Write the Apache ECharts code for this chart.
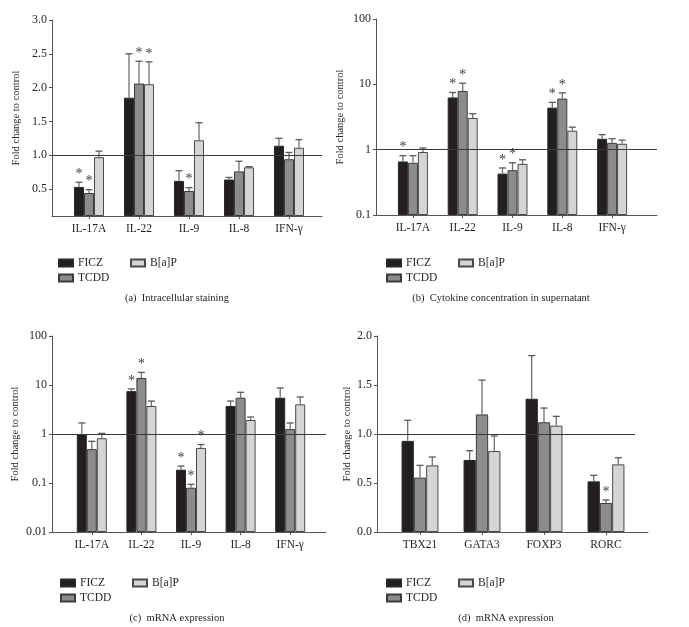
<!DOCTYPE html>
<html><head><meta charset="utf-8">
<script src="https://cdn.jsdelivr.net/npm/echarts@6/dist/echarts.min.js"></script>
<style>html,body{margin:0;padding:0;background:#fff}#c{width:689px;height:627px}</style>
</head><body><div id="c"></div>
<script>
// ---------- data ----------
const seriesNames = ['FICZ', 'TCDD', 'B[a]P'];
const cytokines = ['IL-17A', 'IL-22', 'IL-9', 'IL-8', 'IFN-γ'];
const transcriptionFactors = ['TBX21', 'GATA3', 'FOXP3', 'RORC'];

// (a) Intracellular staining (linear)
const ficzA = [0.53, 1.85, 0.62, 0.64, 1.14];
const ficzErrTopA = [0.60, 2.50, 0.77, 0.67, 1.25];
const tcddA = [0.44, 2.06, 0.47, 0.76, 0.94];
const tcddErrTopA = [0.49, 2.39, 0.52, 0.91, 1.04];
const bapA = [0.97, 2.05, 1.22, 0.82, 1.11];
const bapErrTopA = [1.06, 2.38, 1.48, 0.83, 1.23];
const ficzSigA = [1, 0, 0, 0, 0];
const tcddSigA = [1, 1, 1, 0, 0];
const bapSigA = [0, 1, 0, 0, 0];
const yTicksA = [0.5, 1.0, 1.5, 2.0, 2.5, 3.0];

// (b) Cytokine concentration in supernatant (log)
const ficzB = [0.66, 6.3, 0.43, 4.4, 1.47];
const ficzErrTopB = [0.81, 7.5, 0.525, 5.3, 1.70];
const tcddB = [0.63, 7.9, 0.485, 6.05, 1.27];
const tcddErrTopB = [0.81, 10.4, 0.63, 7.4, 1.47];
const bapB = [0.92, 3.05, 0.605, 1.95, 1.23];
const bapErrTopB = [1.06, 3.55, 0.70, 2.21, 1.40];
const ficzSigB = [1, 1, 1, 1, 0];
const tcddSigB = [0, 1, 1, 1, 0];
const bapSigB = [0, 0, 0, 0, 0];

// (c) mRNA expression, cytokines (log)
const ficzC = [1.0, 7.5, 0.187, 3.73, 5.5];
const ficzErrTopC = [1.68, 8.3, 0.222, 4.7, 8.7];
const tcddC = [0.49, 13.9, 0.080, 5.5, 1.26];
const tcddErrTopC = [0.71, 18.1, 0.094, 7.1, 1.68];
const bapC = [0.82, 3.73, 0.52, 1.93, 4.03];
const bapErrTopC = [1.03, 4.7, 0.61, 2.22, 5.69];
const ficzSigC = [0, 1, 1, 0, 0];
const tcddSigC = [0, 1, 1, 0, 0];
const bapSigC = [0, 0, 1, 0, 0];

// (d) mRNA expression, transcription factors (linear)
const ficzD = [0.93, 0.735, 1.36, 0.517];
const ficzErrTopD = [1.14, 0.83, 1.80, 0.578];
const tcddD = [0.555, 1.20, 1.12, 0.296];
const tcddErrTopD = [0.68, 1.55, 1.265, 0.327];
const bapD = [0.68, 0.826, 1.085, 0.69];
const bapErrTopD = [0.765, 0.98, 1.18, 0.758];
const ficzSigD = [0, 0, 0, 0];
const tcddSigD = [0, 0, 0, 1];
const bapSigD = [0, 0, 0, 0];

const captions = ['(a)  Intracellular staining', '(b)  Cytokine concentration in supernatant',
                  '(c)  mRNA expression', '(d)  mRNA expression'];
const yAxisTitle = 'Fold change to control';
const referenceValue = 1;

// ---------- styling / layout ----------
const FONT = '"Liberation Serif", "DejaVu Serif", serif';
const TXT = '#231f20';
const AX = '#555';
const fills = ['#231f20', '#8b8c8e', '#d4d5d6'];
const borders = ['#2a2a2a', '#3c3c3c', '#4a4a4a'];

const panels = [
  { cats: cytokines, vals: [ficzA, tcddA, bapA], errs: [ficzErrTopA, tcddErrTopA, bapErrTopA], sigs: [ficzSigA, tcddSigA, bapSigA],
    axis: { type: 'value', min: 0.1, max: 3, startValue: 0.1, custom: yTicksA, fmt: v => (+v).toFixed(1) },
    frame: { left: 52, top: 20, width: 270, height: 196 }, bars: { left: 64, width: 250 }, barW: 10,
    nameGap: 30, legend: { left: 53, top: 252 }, cap: { x: 172, y: 288 }, refEnd: 1 },
  { cats: cytokines, vals: [ficzB, tcddB, bapB], errs: [ficzErrTopB, tcddErrTopB, bapErrTopB], sigs: [ficzSigB, tcddSigB, bapSigB],
    axis: { type: 'log', min: 0.1, max: 100, startValue: 0.1, fmt: v => String(+(+v).toPrecision(3)) },
    frame: { left: 376, top: 19, width: 281, height: 196 }, bars: { left: 388, width: 249 }, barW: 10,
    nameGap: 30, legend: { left: 381, top: 252 }, cap: { x: 496, y: 288 }, refEnd: 1 },
  { cats: cytokines, vals: [ficzC, tcddC, bapC], errs: [ficzErrTopC, tcddErrTopC, bapErrTopC], sigs: [ficzSigC, tcddSigC, bapSigC],
    axis: { type: 'log', min: 0.01, max: 100, startValue: 0.01, fmt: v => String(+(+v).toPrecision(3)) },
    frame: { left: 52, top: 336, width: 274, height: 196 }, bars: { left: 67, width: 248 }, barW: 10,
    nameGap: 31, legend: { left: 55, top: 572 }, cap: { x: 172, y: 608 }, refEnd: 1 },
  { cats: transcriptionFactors, vals: [ficzD, tcddD, bapD], errs: [ficzErrTopD, tcddErrTopD, bapErrTopD], sigs: [ficzSigD, tcddSigD, bapSigD],
    axis: { type: 'value', min: 0, max: 2, interval: 0.5, fmt: v => (+v).toFixed(1) },
    frame: { left: 377, top: 336, width: 271, height: 196 }, bars: { left: 389, width: 248 }, barW: 12.3,
    nameGap: 24, legend: { left: 381, top: 572 }, cap: { x: 501, y: 608 }, refEnd: 0.952 }
];

function yAxisBase(p) {
  const a = { type: p.axis.type, min: p.axis.min, max: p.axis.max };
  if (p.axis.type === 'log') a.logBase = 10;
  if (p.axis.interval) a.interval = p.axis.interval;
  if (p.axis.startValue != null) a.startValue = p.axis.startValue;
  return a;
}

function errRender(barW) {
  return function (params, api) {
    const ci = api.value(0), si = api.value(1), v = api.value(2), e = api.value(3), sig = api.value(4);
    const b = api.coord([ci, v]);
    const t = api.coord([ci, e]);
    const x = b[0] + (si - 1) * barW;
    const children = [
      { type: 'line', shape: { x1: x, y1: b[1], x2: x, y2: t[1] }, style: { stroke: '#707173', lineWidth: 1.3 } },
      { type: 'line', shape: { x1: x - 3.5, y1: t[1], x2: x + 3.5, y2: t[1] }, style: { stroke: '#58595b', lineWidth: 1.3 } }
    ];
    if (sig) {
      children.push({ type: 'text', style: { text: '*', x: x, y: t[1] - 1, align: 'center', verticalAlign: 'bottom',
        fontSize: 14, fontFamily: FONT, fill: '#3a3a3a' } });
    }
    return { type: 'group', children };
  };
}

const option = { animation: false, backgroundColor: '#fff', grid: [], xAxis: [], yAxis: [], series: [], legend: [], title: [] };

panels.forEach((p, pi) => {
  const gF = option.grid.length;
  option.grid.push({ left: p.frame.left, top: p.frame.top, width: p.frame.width, height: p.frame.height, containLabel: false });
  const gB = option.grid.length;
  option.grid.push({ left: p.bars.left, top: p.frame.top, width: p.bars.width, height: p.frame.height, containLabel: false });

  // frame axes
  const xF = option.xAxis.length;
  option.xAxis.push({ gridIndex: gF, type: 'value', min: 0, max: 1,
    axisLine: { show: true, onZero: false, lineStyle: { color: AX, width: 1 } },
    axisTick: { show: false }, axisLabel: { show: false }, splitLine: { show: false } });
  const yF = option.yAxis.length;
  const yFrame = Object.assign(yAxisBase(p), {
    gridIndex: gF, name: yAxisTitle, nameLocation: 'middle', nameGap: p.nameGap,
    nameTextStyle: { fontFamily: FONT, fontSize: 10.5, color: TXT },
    axisLine: { show: true, lineStyle: { color: AX, width: 1 } },
    axisTick: { show: true, length: 3, lineStyle: { color: AX } },
    axisLabel: { color: TXT, fontFamily: FONT, fontSize: 12, margin: 5, formatter: p.axis.fmt },
    splitLine: { show: false }, minorTick: { show: false }
  });
  if (p.axis.custom) {
    yFrame.axisLabel.customValues = p.axis.custom;
    yFrame.axisTick.customValues = p.axis.custom;
  }
  option.yAxis.push(yFrame);

  // bar axes
  const xB = option.xAxis.length;
  option.xAxis.push({ gridIndex: gB, type: 'category', data: p.cats,
    axisLine: { show: false }, axisTick: { show: true, alignWithLabel: true, length: 3, lineStyle: { color: AX } },
    axisLabel: { color: TXT, fontFamily: FONT, fontSize: 11.5, margin: 7 }, splitLine: { show: false } });
  const yB = option.yAxis.length;
  option.yAxis.push(Object.assign(yAxisBase(p), { gridIndex: gB, show: false, splitLine: { show: false } }));

  // reference line
  option.series.push({ type: 'line', xAxisIndex: xF, yAxisIndex: yF, data: [], silent: true,
    markLine: { silent: true, symbol: ['none', 'none'], label: { show: false },
      lineStyle: { color: '#3a3a3a', width: 1, type: 'solid' },
      data: [[{ coord: [0, referenceValue] }, { coord: [p.refEnd, referenceValue] }]] } });

  // bars
  seriesNames.forEach((nm, si) => {
    option.series.push({ type: 'bar', name: nm, xAxisIndex: xB, yAxisIndex: yB, data: p.vals[si],
      barWidth: p.barW, barGap: '0%',
      itemStyle: { color: fills[si], borderColor: borders[si], borderWidth: 1 }, z: 2 });
  });

  // error bars + significance marks
  const errData = [];
  seriesNames.forEach((nm, si) => {
    p.cats.forEach((c, ci) => errData.push([ci, si, p.vals[si][ci], p.errs[si][ci], p.sigs[si][ci]]));
  });
  option.series.push({ type: 'custom', xAxisIndex: xB, yAxisIndex: yB, data: errData, z: 3, silent: true,
    encode: { x: 0, y: [2, 3] }, renderItem: errRender(p.barW) });

  // legends (two columns)
  const lg = { orient: 'vertical', itemWidth: 14, itemHeight: 7, itemGap: 3, icon: 'rect',
    textStyle: { fontFamily: FONT, fontSize: 11.5, color: TXT }, selectedMode: false };
  option.legend.push(Object.assign({}, lg, { left: p.legend.left, top: p.legend.top, data: ['FICZ', 'TCDD'] }));
  option.legend.push(Object.assign({}, lg, { left: p.legend.left + 72, top: p.legend.top, data: ['B[a]P'] }));

  // caption
  option.title.push({ text: captions[pi], left: p.cap.x, top: p.cap.y, textAlign: 'center',
    textStyle: { fontFamily: FONT, fontSize: 10.5, fontWeight: 'normal', color: TXT } });
});

const chart = echarts.init(document.getElementById('c'), null, { renderer: 'canvas' });
chart.setOption(option);
</script>
</body></html>
